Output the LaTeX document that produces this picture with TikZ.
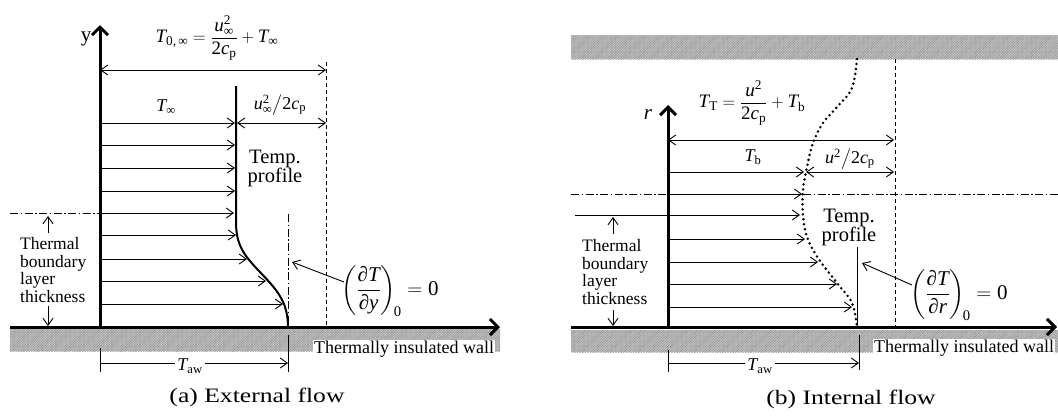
\documentclass[tikz,border=0pt]{standalone}
\usepackage{amsmath}
\usepackage{fontspec}
\setmainfont{Liberation Serif}
\usetikzlibrary{arrows.meta,patterns.meta}
\newcommand{\mi}[1]{\textit{#1}}
\newcommand{\tx}[1]{\text{#1}}
\begin{document}
\begin{tikzpicture}[x=1pt,y=-1pt,
  barb/.tip={Straight Barb[length=7pt,width=10pt]},
  thinln/.style={line width=0.9pt},
  dimarrow/.style={line width=0.9pt,-barb},
  dimboth/.style={line width=0.9pt,barb-barb},
  axisline/.style={line width=3pt,-{Straight Barb[length=8pt,width=16pt]}},
  wallfill/.style={fill=black!22,draw=none},
  wallhatch/.style={pattern={Lines[angle=45,distance=1.8pt,line width=0.45pt]},pattern color=black!50,draw=none},
  wallhatchb/.style={pattern={Lines[angle=-45,distance=1.8pt,line width=0.35pt]},pattern color=black!30,draw=none},
  dashedln/.style={line width=0.9pt,dash pattern=on 4pt off 3pt},
  dashdot/.style={line width=0.9pt,dash pattern=on 8pt off 2.5pt on 1.5pt off 2.5pt},
  profile/.style={line width=2pt},
  dotprofile/.style={line width=2.8pt,line cap=round,dash pattern=on 0pt off 5pt},
  lbl/.style={inner sep=1pt,font=\fontsize{18}{18}\selectfont},
  tlbl/.style={inner sep=1pt,font=\fontsize{20.5}{19}\selectfont,align=center},
  bl/.style={inner sep=0pt,font=\fontsize{17.5}{17.5}\selectfont,align=left,anchor=west},
  captxt/.style={inner sep=1pt,font=\fontsize{20.5}{20.5}\selectfont,xscale=1.25},
  wallt/.style={inner sep=1pt,fill=white,font=\fontsize{18}{18}\selectfont},
  fml/.style={inner sep=1pt,font=\fontsize{19}{19}\selectfont},
  gfml/.style={inner sep=1pt,font=\fontsize{21}{21}\selectfont,anchor=west}
]
\useasboundingbox (0,0) rectangle (1058,416);

% ================= (a) External flow =================
\fill[wallfill] (10,329) rectangle (500,351);
\fill[wallhatch] (10,329) rectangle (500,351);
\fill[wallhatchb] (10,329) rectangle (500,351);
\coordinate (Lw0) at (10,327); \coordinate (Lw1) at (500,327);
\coordinate (Ly0) at (100,327); \coordinate (Ly1) at (100,25);
\draw[axisline] (Lw0) -- (Lw1);
\draw[axisline] (Ly0) -- (Ly1);
\node[font=\fontsize{21}{21}\selectfont] (ylab) at (86,39) {y};

\node[fml] (Ltop) at (217,38) {$\mi{T}_{\tx{0,\,∞}} = \dfrac{\mi{u}_{\tx{∞}}^{\tx{2}}}{\tx{2}\mi{c}_{\tx{p}}} + \mi{T}_{\tx{∞}}$};
\coordinate (Ld1) at (100,70); \coordinate (Ld2) at (326,70);
\draw[dimboth] (Ld1) -- (Ld2);
\coordinate (Lv1) at (326,62); \coordinate (Lv2) at (326,327);
\draw[dashedln] (Lv1) -- (Lv2);

\draw[profile] (236,86) -- (236,222) .. controls (236,245) and (244,255) .. (258,270) .. controls (275,288) and (288,300) .. (288,327);

\foreach \yy/\xx in {123/235,145/235,168/235,191/235,213/234,235/236,259/247,281/266,304/283}
  \draw[dimarrow] (100,\yy) -- (\xx,\yy);
\node[lbl] (Ltinf) at (166,107) {$\mi{T}_{\tx{∞}}$};
\node[lbl] (Lu) at (280,105) {$\mi{u}_{\tx{∞}}^{\tx{2}}\big/\tx{2}\mi{c}_{\tx{p}}$};
\coordinate (Lr1) at (237,123); \coordinate (Lr2) at (326,123);
\draw[dimboth] (Lr1) -- (Lr2);
\node[tlbl] (Ltemp) at (275,168) {Temp.\\profile};

\coordinate (Lc1) at (288,214); \coordinate (Lc2) at (288,322);
\draw[dashdot] (Lc1) -- (Lc2);
\node[gfml] (Lgrad) at (340,291) {$\left(\dfrac{\tx{∂}\mi{T}}{\tx{∂}\mi{y}}\right)_{\!\tx{0}} = \tx{0}$};
\coordinate (La1) at (344,282); \coordinate (La2) at (292,262);
\draw[dimarrow] (La1) -- (La2);

\coordinate (Lb1) at (10,213); \coordinate (Lb2) at (100,213);
\draw[dashdot] (Lb1) -- (Lb2);
\node[bl] (Lbl) at (20,270) {Thermal\\boundary\\layer\\thickness};
\draw[dimarrow] (48,233) -- (48,216);
\draw[dimarrow] (48,306) -- (48,326);

\draw[thinln] (100,348) -- (100,372);
\draw[thinln] (288,335) -- (288,372);
\draw[dimarrow] (100,363) -- (288,363);
\node[lbl,fill=white,inner sep=2pt] (Ltaw) at (190,366) {$\mi{T}_{\tx{aw}}$};
\node[wallt] (Lwall) at (404,349) {Thermally insulated wall};
\node[captxt] (Lcap) at (257,397) {(a) External flow};

% ================= (b) Internal flow =================
\fill[wallfill] (571,35) rectangle (1058,59);
\fill[wallhatch] (571,35) rectangle (1058,59);
\fill[wallhatchb] (571,35) rectangle (1058,59);
\fill[wallfill] (571,330) rectangle (1058,352);
\fill[wallhatch] (571,330) rectangle (1058,352);
\fill[wallhatchb] (571,330) rectangle (1058,352);
\coordinate (Rw0) at (571,327); \coordinate (Rw1) at (1057,327);
\coordinate (Ry0) at (668,327); \coordinate (Ry1) at (668,105);
\draw[axisline] (Rw0) -- (Rw1);
\draw[axisline] (Ry0) -- (Ry1);
\node[font=\fontsize{21}{21}\selectfont] (rlab) at (648,115) {\itshape r};

\node[fml] (Rtop) at (752,103) {$\mi{T}_{\tx{T}} = \dfrac{\mi{u}^{\tx{2}}}{\tx{2}\mi{c}_{\tx{p}}} + \mi{T}_{\tx{b}}$};
\coordinate (Rd1) at (668,140); \coordinate (Rd2) at (894,140);
\draw[dimboth] (Rd1) -- (Rd2);
\coordinate (Rv1) at (895,59); \coordinate (Rv2) at (895,327);
\draw[dashedln] (Rv1) -- (Rv2);

\node[lbl] (Rtb) at (753,157) {$\mi{T}_{\tx{b}}$};
\node[lbl] (Ru) at (850,159) {$\mi{u}^{\tx{2}}\big/\tx{2}\mi{c}_{\tx{p}}$};
\coordinate (Rr1) at (806,172); \coordinate (Rr2) at (894,172);
\draw[dimboth] (Rr1) -- (Rr2);

\coordinate (Rc1) at (571,194); \coordinate (Rc2) at (1058,194);
\draw[dashdot] (Rc1) -- (Rc2);

\foreach \yy/\xx in {172/804,194/802,215/800,239/805,262/818,284/837,307/852}
  \draw[dimarrow] (668,\yy) -- (\xx,\yy);

\draw[dotprofile] plot[smooth,tension=0.6] coordinates {(857,59) (852,88) (837,107) (823,123) (813,143) (807,167) (803,190) (803,215) (807,237) (818,258) (837,283) (852,303) (857,327)};

\node[tlbl] (Rtemp) at (849,227) {Temp.\\profile};
\coordinate (Rs1) at (857,247); \coordinate (Rs2) at (857,327);
\draw[thinln] (Rs1) -- (Rs2);
\node[gfml] (Rgrad) at (909,295) {$\left(\dfrac{\tx{∂}\mi{T}}{\tx{∂}\mi{r}}\right)_{\!\tx{0}} = \tx{0}$};
\coordinate (Ra1) at (912,285); \coordinate (Ra2) at (862,263);
\draw[dimarrow] (Ra1) -- (Ra2);

\coordinate (Rb1) at (575,215); \coordinate (Rb2) at (668,215);
\draw[thinln] (Rb1) -- (Rb2);
\node[bl] (Rbl) at (582,272) {Thermal\\boundary\\layer\\thickness};
\draw[dimarrow] (613,234) -- (613,217);
\draw[dimarrow] (613,310) -- (613,326);

\draw[thinln] (668,350) -- (668,372);
\draw[thinln] (859,335) -- (859,370);
\draw[dimarrow] (668,363) -- (859,363);
\node[lbl,fill=white,inner sep=2pt] (Rtaw) at (760,366) {$\mi{T}_{\tx{aw}}$};
\node[wallt] (Rwall) at (964,348) {Thermally insulated wall};
\node[captxt] (Rcap) at (851,399) {(b) Internal flow};
\end{tikzpicture}
\end{document}
